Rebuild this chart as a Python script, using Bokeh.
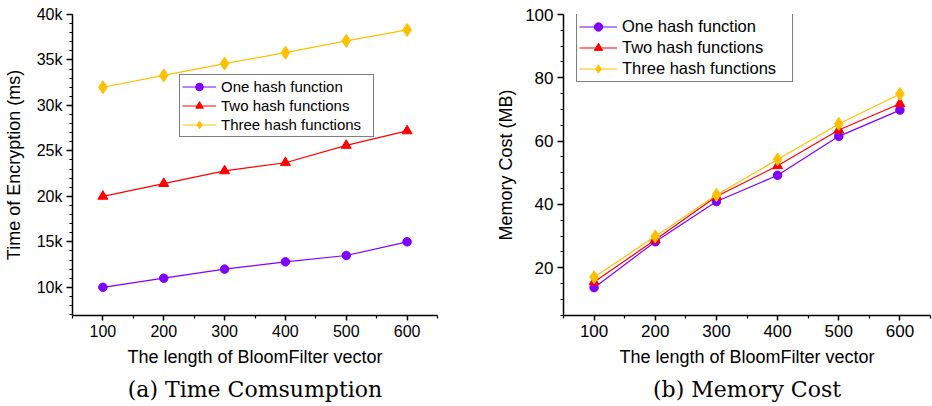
from bokeh.plotting import figure
from bokeh.layouts import row
from bokeh.models import FixedTicker, Legend, LegendItem, Title, Range1d
from bokeh.embed import file_html
from bokeh.resources import INLINE

# --- data -------------------------------------------------------------
lengths = [100, 200, 300, 400, 500, 600]
series_names = ["One hash function", "Two hash functions", "Three hash functions"]

# encryption time (ms)
time_one = [10000, 11000, 12000, 12800, 13500, 15000]
time_two = [20000, 21400, 22800, 23700, 25600, 27200]
time_three = [32000, 33300, 34600, 35800, 37100, 38300]

# memory cost (MB)
mem_one = [13.7, 28.2, 40.9, 49.2, 61.5, 69.8]
mem_two = [15.5, 28.8, 42.5, 52.2, 63.5, 71.8]
mem_three = [17.0, 29.9, 43.0, 54.2, 65.4, 74.9]

x_ticks = [100, 200, 300, 400, 500, 600]
time_ticks = [10000, 15000, 20000, 25000, 30000, 35000, 40000]
time_tick_labels = ["10k", "15k", "20k", "25k", "30k", "35k", "40k"]
mem_ticks = [20, 40, 60, 80, 100]
mem_tick_labels = ["20", "40", "60", "80", "100"]

# --- styling ----------------------------------------------------------
COLORS = ["#8000FF", "#FF0000", "#FFC000"]
SANS = "Liberation Sans"
SERIF = "DejaVu Serif"


def style_axes(p, tick_size):
    for ax in (p.xaxis[0], p.yaxis[0]):
        ax.axis_line_color = "black"
        ax.axis_line_width = 1.5
        ax.major_tick_line_color = "black"
        ax.major_tick_line_width = 1.5
        ax.minor_tick_line_color = "black"
        ax.minor_tick_line_width = 1.2
        ax.major_tick_in = 0
        ax.minor_tick_in = 0
        ax.major_label_text_font = SANS
        ax.major_label_text_font_size = tick_size
        ax.major_label_text_color = "black"
        ax.axis_label_text_font = SANS
        ax.axis_label_text_font_size = "18px"
        ax.axis_label_text_font_style = "normal"
        ax.axis_label_text_color = "black"
    p.xaxis[0].major_tick_out = 5
    p.xaxis[0].minor_tick_out = 3
    p.xaxis[0].major_label_standoff = 4
    p.xaxis[0].axis_label_standoff = 7
    p.yaxis[0].major_tick_out = 6
    p.yaxis[0].minor_tick_out = 3
    p.yaxis[0].major_label_standoff = 4
    p.xgrid.visible = False
    p.ygrid.visible = False
    p.outline_line_color = None
    p.background_fill_color = "white"
    p.border_fill_color = "white"


def make_panel(series, y_range, y_ticks, y_minor, y_labels, y_title,
               caption, left_border, right_border, tick_size,
               legend_loc, legend_font, legend_row, legend_glyph_w,
               legend_label_w, y_label_standoff):
    p = figure(width=466, height=406,
               x_range=Range1d(50, 650), y_range=Range1d(*y_range),
               output_backend="svg", toolbar_location=None,
               min_border_left=left_border, min_border_right=right_border,
               min_border_top=14, min_border_bottom=90)

    p.xaxis[0].ticker = FixedTicker(ticks=x_ticks,
                                    minor_ticks=list(range(50, 651, 100)))
    p.yaxis[0].ticker = FixedTicker(ticks=y_ticks, minor_ticks=y_minor)
    p.yaxis[0].major_label_overrides = {t: l for t, l in zip(y_ticks, y_labels)}
    p.xaxis[0].axis_label = "The length of BloomFilter vector"
    p.yaxis[0].axis_label = y_title
    style_axes(p, tick_size)
    p.yaxis[0].axis_label_standoff = y_label_standoff

    items = []
    markers = [("circle", 8.5), ("triangle", 10), ("diamond", 13)]
    for name, vals, color, (mk, sz) in zip(series_names, series, COLORS, markers):
        ln = p.line(lengths, vals, line_color=color, line_width=1.2)
        sc = p.scatter(lengths, vals, marker=mk, size=sz,
                       fill_color=color, line_color=color)
        items.append(LegendItem(label=name, renderers=[ln, sc]))

    legend = Legend(items=items, location=legend_loc,
                    border_line_color="black", border_line_width=1.2,
                    background_fill_color="white", background_fill_alpha=1,
                    label_text_font=SANS, label_text_font_size=legend_font,
                    label_text_color="black",
                    padding=2, spacing=0, margin=0,
                    label_height=legend_row, glyph_height=legend_row,
                    glyph_width=legend_glyph_w, label_standoff=5,
                    label_width=legend_label_w)
    p.add_layout(legend, "center")

    p.add_layout(Title(text=caption, align="center", text_font=SERIF,
                       text_font_size="22px", text_font_style="normal",
                       text_color="black", standoff=10), "below")
    return p


time_minor = list(range(7000, 40001, 1000))
mem_minor = list(range(5, 101, 5))

p1 = make_panel([time_one, time_two, time_three], (6900, 40000),
                time_ticks, time_minor, time_tick_labels,
                "Time of Encryption (ms)", "(a) Time Comsumption",
                70, 29, "16px", (107, 178), "15px", 19, 34, 150, 10)

p2 = make_panel([mem_one, mem_two, mem_three], (4.9, 100),
                mem_ticks, mem_minor, mem_tick_labels,
                "Memory Cost (MB)", "(b) Memory Cost",
                97, 2, "17px", (13, 233), "16.5px", 21, 38, 168, 6)

layout = row(p1, p2)
open("out.html", "w").write(file_html(layout, INLINE))
